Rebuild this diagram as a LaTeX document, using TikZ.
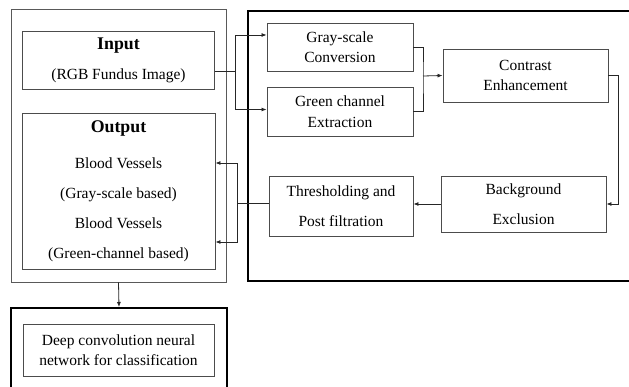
\documentclass[tikz,border=0pt]{standalone}
\usepackage{fontspec}
\setmainfont{Liberation Serif}
\usetikzlibrary{arrows.meta,positioning}

\newcommand{\heading}[1]{{\fontsize{17.8}{30}\selectfont\textbf{#1}}}

\tikzset{
	stage/.style={draw=black!70, line width=0.9pt, inner sep=0pt, align=center, font=\fontsize{15.5}{20.5}\selectfont},
	widestage/.style={stage, font=\fontsize{15.5}{30}\selectfont},
	frame/.style={draw=black!65, line width=0.9pt, inner sep=0pt},
	thickframe/.style={draw=black, line width=2pt, inner sep=0pt},
	flow/.style={draw=black!85, line width=0.8pt, -{Latex[length=5pt,width=4pt]}},
	link/.style={draw=black!85, line width=0.8pt}
}

\begin{document}
\begin{tikzpicture}[x=1pt,y=-1pt]
	\useasboundingbox (0,0) rectangle (629,387);
	
	% LEFT COLUMN
	
	\node [frame, minimum width=215pt, minimum height=273pt] at (118.5,145.5) (leftframe) {};
	\node [widestage, minimum width=191.5pt, minimum height=58pt] at (118.5,60) (input) {\heading{Input}\\(RGB Fundus Image)};
	\node [widestage, minimum width=193pt, minimum height=156pt] at (118.5,191) (output) {\heading{Output}\\[6pt]Blood Vessels\\(Gray-scale based)\\Blood Vessels\\(Green-channel based)};
	
	% RIGHT BLOCK
	
	\node [thickframe, minimum width=383pt, minimum height=270pt] at (439.5,146) (rightframe) {};
	\node [stage, minimum width=146pt, minimum height=48pt] at (340,47) (gray) {Gray-scale\\Conversion};
	\node [stage, minimum width=146pt, minimum height=49pt] at (340,111.5) (green) {Green channel\\Extraction};
	\node [stage, minimum width=165pt, minimum height=53pt] at (525.5,75.5) (contrast) {Contrast\\Enhancement};
	\node [widestage, minimum width=165pt, minimum height=56pt] at (523.5,204) (background) {Background\\Exclusion};
	\node [widestage, minimum width=144pt, minimum height=60pt] at (341,206) (thresh) {Thresholding and\\Post filtration};
	
	% BOTTOM BLOCK
	
	\node [thickframe, minimum width=216pt, minimum height=87pt] at (119,351.5) (deepframe) {};
	\node [stage, minimum width=191pt, minimum height=52pt] at (118.5,350) (deep) {Deep convolution neural\\network for classification};
	
	% Split of the input
	\coordinate (split) at (235,71);
	\draw [link] ([yshift=-11pt]input.east) -- (split);
	\draw [flow] (split) |- ([yshift=12pt]gray.west);
	\draw [flow] (split) |- ([yshift=2pt]green.west);
	
	% Join into contrast
	\coordinate (join) at (423,76);
	\draw [link] (gray.east) -| (join) |- (green.east);
	\draw [flow] (join) -- (contrast.west);
	
	% Down the right side
	\draw [flow] (contrast.east) -- ++(10,0) |- (background.east);
	\draw [flow] (background.west) -- (background.west -| thresh.east);
	
	% Back to the output
	\coordinate (merge) at (237,203);
	\draw [link] (merge -| thresh.west) -- (merge);
	\draw [flow] (merge) |- ([yshift=28pt]output.east);
	\draw [flow] (merge) |- ([yshift=-51pt]output.east);
	
	% To the classifier
	\draw [flow] (leftframe.south) -- (deepframe.north);
	
\end{tikzpicture}
\end{document}
